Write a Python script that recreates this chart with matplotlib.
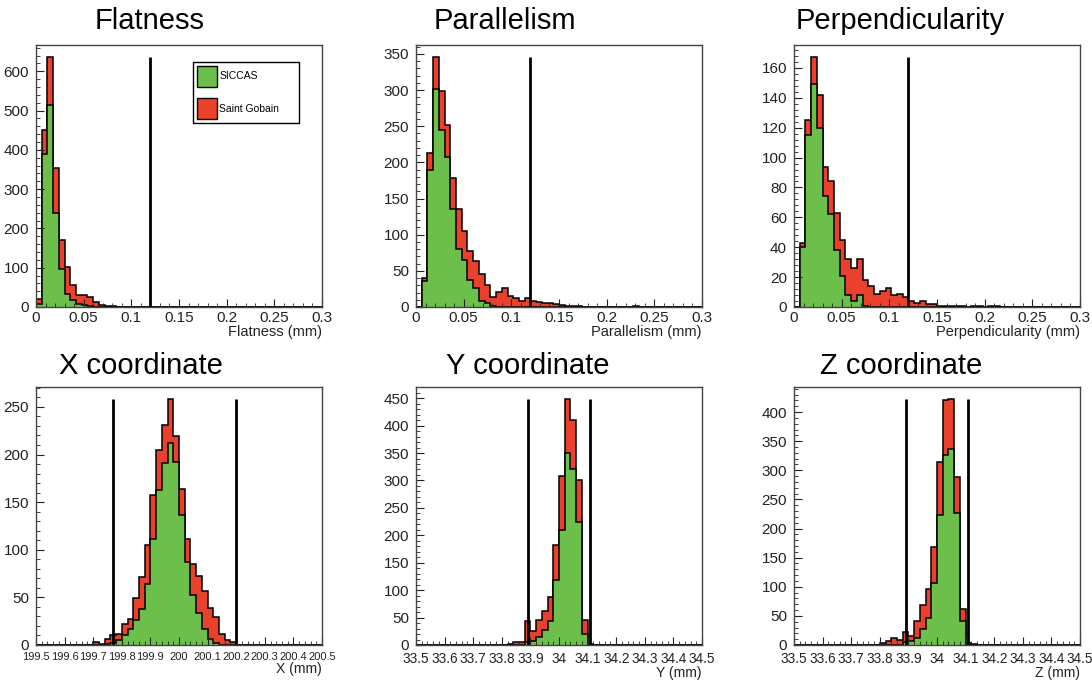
import numpy as np
import matplotlib
matplotlib.use('Agg')
import matplotlib.pyplot as plt
from matplotlib.patches import Patch
from matplotlib.ticker import MultipleLocator, FuncFormatter

# --- Data (counts per bin, 50 bins per histogram) ---
TITLES = ['Flatness', 'Parallelism', 'Perpendicularity',
          'X coordinate', 'Y coordinate', 'Z coordinate']
XLABELS = ['Flatness (mm)', 'Parallelism (mm)', 'Perpendicularity (mm)',
           'X (mm)', 'Y (mm)', 'Z (mm)']
X_RANGES = [(0, 0.3), (0, 0.3), (0, 0.3),
            (199.5, 200.5), (33.5, 34.5), (33.5, 34.5)]
CUTS = [[0.12], [0.12], [0.12],
        [199.77, 200.2], [33.89, 34.11], [33.89, 34.11]]

FLAT_SICCAS = [8, 390, 515, 240, 97, 34, 17, 8, 4, 2,
               1, 0, 0, 0, 0, 0, 0, 0, 0, 0,
               0, 0, 0, 0, 0, 0, 0, 0, 0, 0,
               0, 0, 0, 0, 0, 0, 0, 0, 0, 0,
               0, 0, 0, 0, 0, 0, 0, 0, 0, 0]
FLAT_GOBAIN = [12, 60, 120, 115, 73, 68, 38, 22, 26, 23,
               12, 5, 3, 2, 1, 1, 1, 0, 0, 0,
               0, 0, 0, 0, 0, 0, 0, 0, 0, 0,
               0, 0, 0, 0, 0, 0, 0, 0, 0, 0,
               0, 0, 0, 0, 0, 0, 0, 0, 0, 0]

PARA_SICCAS = [0, 36, 189, 302, 245, 207, 136, 80, 65, 37,
               26, 8, 5, 1, 0, 0, 0, 0, 0, 0,
               0, 0, 0, 0, 0, 0, 0, 0, 0, 0,
               0, 0, 0, 0, 0, 0, 0, 0, 0, 0,
               0, 0, 0, 0, 0, 0, 0, 0, 0, 0]
PARA_GOBAIN = [0, 4, 24, 43, 53, 45, 42, 56, 40, 40,
               37, 38, 25, 13, 21, 26, 15, 12, 8, 12,
               8, 7, 5, 6, 4, 3, 2, 2, 1, 0,
               0, 0, 0, 0, 0, 0, 0, 0, 1, 0,
               0, 0, 0, 0, 0, 0, 0, 0, 0, 0]

PERP_SICCAS = [0, 40, 115, 149, 120, 74, 62, 38, 21, 8,
               4, 8, 1, 0, 0, 0, 0, 0, 0, 0,
               0, 0, 0, 0, 0, 0, 0, 0, 0, 0,
               0, 0, 0, 0, 0, 0, 0, 0, 0, 0,
               0, 0, 0, 0, 0, 0, 0, 0, 0, 0]
PERP_GOBAIN = [0, 3, 10, 18, 22, 20, 22, 25, 24, 24,
               22, 24, 17, 14, 9, 11, 13, 8, 9, 7,
               4, 3, 4, 2, 2, 1, 1, 1, 1, 1,
               0, 1, 1, 0, 1, 1, 0, 0, 0, 0,
               0, 0, 0, 0, 0, 0, 0, 0, 0, 0]

X_SICCAS = [0, 0, 0, 0, 0, 0, 0, 0, 0, 0,
            0, 0, 1, 2, 5, 10, 17, 26, 38, 64,
            111, 163, 191, 212, 192, 137, 87, 53, 34, 17,
            6, 2, 0, 0, 0, 0, 0, 0, 0, 0,
            0, 0, 0, 0, 0, 0, 0, 0, 0, 0]
X_GOBAIN = [0, 0, 0, 0, 0, 0, 0, 0, 0, 0,
            3, 1, 5, 9, 7, 12, 10, 23, 33, 41,
            47, 42, 40, 46, 27, 27, 24, 32, 38, 40,
            33, 27, 12, 5, 3, 0, 0, 0, 0, 0,
            0, 0, 0, 0, 0, 0, 0, 0, 0, 0]

Y_SICCAS = [0, 0, 0, 0, 0, 0, 0, 0, 0, 0,
            0, 0, 0, 0, 0, 0, 0, 0, 0, 5,
            8, 15, 28, 43, 118, 210, 350, 320, 225, 20,
            0, 0, 0, 0, 0, 0, 0, 0, 0, 0,
            0, 0, 0, 0, 0, 0, 0, 0, 0, 0]
Y_GOBAIN = [0, 0, 0, 0, 0, 0, 0, 0, 0, 0,
            0, 0, 0, 0, 0, 0, 2, 5, 6, 38,
            18, 30, 34, 44, 65, 98, 98, 90, 75, 25,
            2, 0, 0, 0, 0, 0, 0, 0, 0, 0,
            0, 0, 0, 0, 0, 0, 0, 0, 0, 0]

Z_SICCAS = [0, 0, 0, 0, 0, 0, 0, 0, 0, 0,
            0, 0, 0, 0, 0, 0, 0, 0, 0, 5,
            7, 12, 27, 47, 107, 224, 326, 336, 227, 41,
            0, 0, 0, 0, 0, 0, 0, 0, 0, 0,
            0, 0, 0, 0, 0, 0, 0, 0, 0, 0]
Z_GOBAIN = [0, 0, 0, 0, 0, 0, 0, 0, 0, 0,
            0, 0, 0, 0, 0, 3, 7, 12, 8, 17,
            9, 29, 41, 50, 61, 91, 94, 86, 62, 21,
            3, 1, 0, 0, 0, 0, 0, 0, 0, 0,
            0, 0, 0, 0, 0, 0, 0, 0, 0, 0]

SICCAS = [FLAT_SICCAS, PARA_SICCAS, PERP_SICCAS, X_SICCAS, Y_SICCAS, Z_SICCAS]
GOBAIN = [FLAT_GOBAIN, PARA_GOBAIN, PERP_GOBAIN, X_GOBAIN, Y_GOBAIN, Z_GOBAIN]

# --- Style / layout (pixels) ---
GREEN = '#6dbf4b'
RED = '#e9412b'
W, H = 1092, 686
COL_LEFT = [36, 416, 794]
ROW_TOP = [45, 387]
ROW_H = [262, 258]
PANEL_W = 286
TITLE_POS = [(150, 21), (505, 21), (900, 21), (141, 366), (528, 366), (901, 366)]
X_MAJOR = [0.05, 0.05, 0.05, 0.1, 0.1, 0.1]
Y_MAJOR = [100, 50, 20, 50, 50, 50]
# long tick labels on the coordinate panels are shrunk so they fit their slot
XTICK_SIZE = [11, 11, 11, 8, 9.8, 9.8]
XTICK_PAD = [3, 3, 3, 5, 5, 5]
XLABEL_SIZE = [10.5, 10.5, 10.5, 10, 10, 10]

plt.rcParams['font.family'] = ['Liberation Sans', 'DejaVu Sans']

fig = plt.figure(figsize=(W / 100, H / 100), dpi=100)
fmt = FuncFormatter(lambda v, p: f'{v:g}')

for i in range(6):
    r, c = divmod(i, 3)
    ax = fig.add_axes([COL_LEFT[c] / W, 1 - (ROW_TOP[r] + ROW_H[r]) / H,
                       PANEL_W / W, ROW_H[r] / H])
    lo, hi = X_RANGES[i]
    edges = np.linspace(lo, hi, len(SICCAS[i]) + 1)
    siccas = np.array(SICCAS[i])
    total = siccas + np.array(GOBAIN[i])

    # stacked: sum drawn first (red), SICCAS on top (green)
    ax.stairs(total, edges, fill=True, facecolor=RED, edgecolor='black', linewidth=1.1)
    ax.stairs(siccas, edges, fill=True, facecolor=GREEN, edgecolor='black', linewidth=1.1)

    ymax = total.max()
    ax.vlines(CUTS[i], 0, ymax, colors='black', linewidth=2)

    ax.set_xlim(lo, hi)
    ax.set_ylim(0, 1.05 * ymax)
    ax.xaxis.set_major_locator(MultipleLocator(X_MAJOR[i]))
    ax.xaxis.set_minor_locator(MultipleLocator(X_MAJOR[i] / 5))
    ax.yaxis.set_major_locator(MultipleLocator(Y_MAJOR[i]))
    ax.yaxis.set_minor_locator(MultipleLocator(Y_MAJOR[i] / 5))
    ax.xaxis.set_major_formatter(fmt)
    ax.yaxis.set_major_formatter(fmt)
    ax.tick_params(which='both', direction='in', top=False, right=False, colors='#222')
    ax.tick_params(axis='x', labelsize=XTICK_SIZE[i], pad=XTICK_PAD[i])
    ax.tick_params(axis='y', labelsize=11, pad=5)
    ax.tick_params(which='major', length=6)
    ax.tick_params(which='minor', length=3)
    for sp in ax.spines.values():
        sp.set_color('#444')
        sp.set_linewidth(1)

    ax.set_xlabel(XLABELS[i], loc='right', fontsize=XLABEL_SIZE[i], labelpad=0, color='#222')

    tx, ty = TITLE_POS[i]
    fig.text(tx / W, 1 - ty / H, TITLES[i], ha='center', va='center', fontsize=21)

    if i == 0:
        handles = [Patch(facecolor=GREEN, edgecolor='black', label='SICCAS'),
                   Patch(facecolor=RED, edgecolor='black', label='Saint Gobain')]
        leg = ax.legend(handles=handles, loc='upper left',
                        bbox_to_anchor=(0.55, 0.936, 0.368, 0.0), mode='expand',
                        fontsize=7.5, frameon=True, fancybox=False, framealpha=1,
                        edgecolor='black', handlelength=1.9, handleheight=2.7,
                        labelspacing=1.1, handletextpad=0.2, borderpad=0.4,
                        borderaxespad=0)
        leg.get_frame().set_linewidth(1)

fig.savefig('out.png', dpi=100)
